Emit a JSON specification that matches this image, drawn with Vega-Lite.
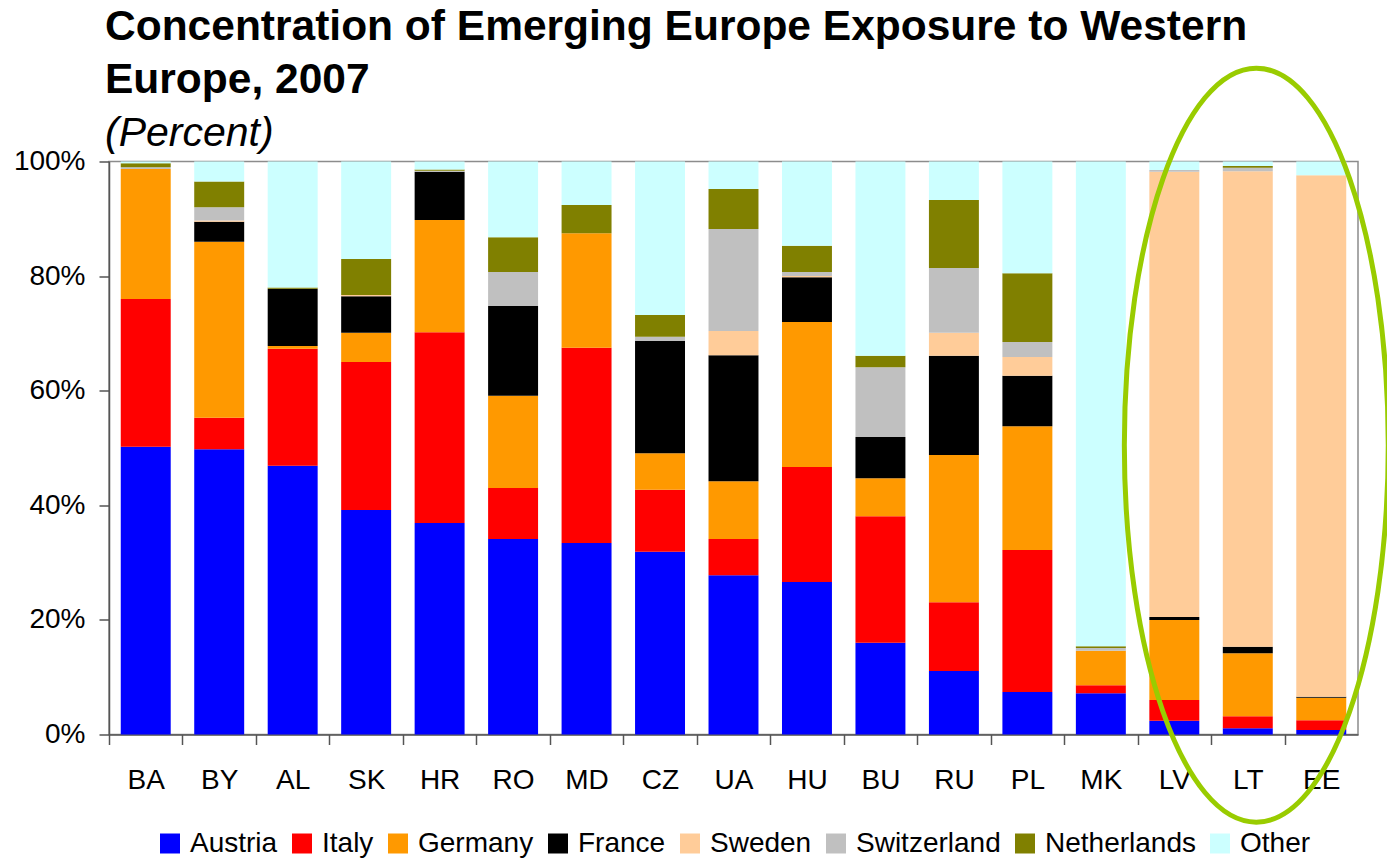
{
  "$schema": "https://vega.github.io/schema/vega-lite/v6.json",
  "width": 1249,
  "height": 573,
  "autosize": {"type": "none"},
  "padding": {"left": 109, "top": 161.5, "right": 29, "bottom": 124.5},
  "background": "white",
  "config": {
    "font": "Liberation Sans",
    "view": {"stroke": "#8c8c8c", "strokeWidth": 1.5},
    "axis": {"labelFont": "Liberation Sans", "labelColor": "black", "domainColor": "#555555", "tickColor": "#555555", "domainWidth": 1.5, "tickWidth": 1.5}
  },
  "title": {
    "text": ["Concentration of Emerging Europe Exposure to Western", "Europe, 2007"],
    "subtitle": "(Percent)",
    "anchor": "start",
    "frame": "group",
    "dx": -4,
    "font": "Liberation Sans",
    "fontSize": 42.5,
    "fontWeight": "bold",
    "lineHeight": 53,
    "color": "black",
    "subtitleFont": "Liberation Sans",
    "subtitleFontSize": 41,
    "subtitleFontStyle": "italic",
    "subtitleColor": "black",
    "subtitlePadding": 13,
    "offset": -96
  },
  "layer": [
    {
      "data": {
        "values": [
          {"c": "BA", "s": "Austria", "v": 50.2}, {"c": "BA", "s": "Italy", "v": 25.8}, {"c": "BA", "s": "Germany", "v": 22.7}, {"c": "BA", "s": "France", "v": 0}, {"c": "BA", "s": "Sweden", "v": 0}, {"c": "BA", "s": "Switzerland", "v": 0.3}, {"c": "BA", "s": "Netherlands", "v": 0.7}, {"c": "BA", "s": "Other", "v": 0.3},
          {"c": "BY", "s": "Austria", "v": 49.8}, {"c": "BY", "s": "Italy", "v": 5.5}, {"c": "BY", "s": "Germany", "v": 30.7}, {"c": "BY", "s": "France", "v": 3.5}, {"c": "BY", "s": "Sweden", "v": 0.2}, {"c": "BY", "s": "Switzerland", "v": 2.3}, {"c": "BY", "s": "Netherlands", "v": 4.5}, {"c": "BY", "s": "Other", "v": 3.5},
          {"c": "AL", "s": "Austria", "v": 46.9}, {"c": "AL", "s": "Italy", "v": 20.4}, {"c": "AL", "s": "Germany", "v": 0.5}, {"c": "AL", "s": "France", "v": 10.0}, {"c": "AL", "s": "Sweden", "v": 0}, {"c": "AL", "s": "Switzerland", "v": 0}, {"c": "AL", "s": "Netherlands", "v": 0.2}, {"c": "AL", "s": "Other", "v": 22.0},
          {"c": "SK", "s": "Austria", "v": 39.2}, {"c": "SK", "s": "Italy", "v": 25.8}, {"c": "SK", "s": "Germany", "v": 5.1}, {"c": "SK", "s": "France", "v": 6.4}, {"c": "SK", "s": "Sweden", "v": 0.2}, {"c": "SK", "s": "Switzerland", "v": 0}, {"c": "SK", "s": "Netherlands", "v": 6.3}, {"c": "SK", "s": "Other", "v": 17.0},
          {"c": "HR", "s": "Austria", "v": 36.9}, {"c": "HR", "s": "Italy", "v": 33.3}, {"c": "HR", "s": "Germany", "v": 19.6}, {"c": "HR", "s": "France", "v": 8.4}, {"c": "HR", "s": "Sweden", "v": 0}, {"c": "HR", "s": "Switzerland", "v": 0.2}, {"c": "HR", "s": "Netherlands", "v": 0.2}, {"c": "HR", "s": "Other", "v": 1.4},
          {"c": "RO", "s": "Austria", "v": 34.1}, {"c": "RO", "s": "Italy", "v": 8.9}, {"c": "RO", "s": "Germany", "v": 16.1}, {"c": "RO", "s": "France", "v": 15.7}, {"c": "RO", "s": "Sweden", "v": 0}, {"c": "RO", "s": "Switzerland", "v": 5.9}, {"c": "RO", "s": "Netherlands", "v": 6.1}, {"c": "RO", "s": "Other", "v": 13.2},
          {"c": "MD", "s": "Austria", "v": 33.4}, {"c": "MD", "s": "Italy", "v": 34.1}, {"c": "MD", "s": "Germany", "v": 20.0}, {"c": "MD", "s": "France", "v": 0}, {"c": "MD", "s": "Sweden", "v": 0}, {"c": "MD", "s": "Switzerland", "v": 0}, {"c": "MD", "s": "Netherlands", "v": 4.9}, {"c": "MD", "s": "Other", "v": 7.6},
          {"c": "CZ", "s": "Austria", "v": 31.9}, {"c": "CZ", "s": "Italy", "v": 10.8}, {"c": "CZ", "s": "Germany", "v": 6.4}, {"c": "CZ", "s": "France", "v": 19.6}, {"c": "CZ", "s": "Sweden", "v": 0}, {"c": "CZ", "s": "Switzerland", "v": 0.7}, {"c": "CZ", "s": "Netherlands", "v": 3.8}, {"c": "CZ", "s": "Other", "v": 26.8},
          {"c": "UA", "s": "Austria", "v": 27.8}, {"c": "UA", "s": "Italy", "v": 6.3}, {"c": "UA", "s": "Germany", "v": 10.1}, {"c": "UA", "s": "France", "v": 22.0}, {"c": "UA", "s": "Sweden", "v": 4.2}, {"c": "UA", "s": "Switzerland", "v": 17.8}, {"c": "UA", "s": "Netherlands", "v": 7.0}, {"c": "UA", "s": "Other", "v": 4.8},
          {"c": "HU", "s": "Austria", "v": 26.6}, {"c": "HU", "s": "Italy", "v": 20.1}, {"c": "HU", "s": "Germany", "v": 25.3}, {"c": "HU", "s": "France", "v": 7.8}, {"c": "HU", "s": "Sweden", "v": 0.2}, {"c": "HU", "s": "Switzerland", "v": 0.7}, {"c": "HU", "s": "Netherlands", "v": 4.6}, {"c": "HU", "s": "Other", "v": 14.7},
          {"c": "BU", "s": "Austria", "v": 16.0}, {"c": "BU", "s": "Italy", "v": 22.1}, {"c": "BU", "s": "Germany", "v": 6.6}, {"c": "BU", "s": "France", "v": 7.2}, {"c": "BU", "s": "Sweden", "v": 0}, {"c": "BU", "s": "Switzerland", "v": 12.2}, {"c": "BU", "s": "Netherlands", "v": 2.0}, {"c": "BU", "s": "Other", "v": 33.9},
          {"c": "RU", "s": "Austria", "v": 11.1}, {"c": "RU", "s": "Italy", "v": 12.0}, {"c": "RU", "s": "Germany", "v": 25.7}, {"c": "RU", "s": "France", "v": 17.3}, {"c": "RU", "s": "Sweden", "v": 4.0}, {"c": "RU", "s": "Switzerland", "v": 11.3}, {"c": "RU", "s": "Netherlands", "v": 11.9}, {"c": "RU", "s": "Other", "v": 6.7},
          {"c": "PL", "s": "Austria", "v": 7.4}, {"c": "PL", "s": "Italy", "v": 24.8}, {"c": "PL", "s": "Germany", "v": 21.6}, {"c": "PL", "s": "France", "v": 8.8}, {"c": "PL", "s": "Sweden", "v": 3.3}, {"c": "PL", "s": "Switzerland", "v": 2.6}, {"c": "PL", "s": "Netherlands", "v": 12.0}, {"c": "PL", "s": "Other", "v": 19.5},
          {"c": "MK", "s": "Austria", "v": 7.2}, {"c": "MK", "s": "Italy", "v": 1.4}, {"c": "MK", "s": "Germany", "v": 6.0}, {"c": "MK", "s": "France", "v": 0}, {"c": "MK", "s": "Sweden", "v": 0}, {"c": "MK", "s": "Switzerland", "v": 0.5}, {"c": "MK", "s": "Netherlands", "v": 0.3}, {"c": "MK", "s": "Other", "v": 84.6},
          {"c": "LV", "s": "Austria", "v": 2.4}, {"c": "LV", "s": "Italy", "v": 3.6}, {"c": "LV", "s": "Germany", "v": 14.0}, {"c": "LV", "s": "France", "v": 0.5}, {"c": "LV", "s": "Sweden", "v": 77.7}, {"c": "LV", "s": "Switzerland", "v": 0.3}, {"c": "LV", "s": "Netherlands", "v": 0}, {"c": "LV", "s": "Other", "v": 1.5},
          {"c": "LT", "s": "Austria", "v": 1.1}, {"c": "LT", "s": "Italy", "v": 2.1}, {"c": "LT", "s": "Germany", "v": 11.0}, {"c": "LT", "s": "France", "v": 1.1}, {"c": "LT", "s": "Sweden", "v": 83.0}, {"c": "LT", "s": "Switzerland", "v": 0.6}, {"c": "LT", "s": "Netherlands", "v": 0.3}, {"c": "LT", "s": "Other", "v": 0.8},
          {"c": "EE", "s": "Austria", "v": 0.8}, {"c": "EE", "s": "Italy", "v": 1.7}, {"c": "EE", "s": "Germany", "v": 3.9}, {"c": "EE", "s": "France", "v": 0.2}, {"c": "EE", "s": "Sweden", "v": 91.0}, {"c": "EE", "s": "Switzerland", "v": 0}, {"c": "EE", "s": "Netherlands", "v": 0}, {"c": "EE", "s": "Other", "v": 2.4}
        ]
      },
      "transform": [
        {"calculate": "indexof(['Austria','Italy','Germany','France','Sweden','Switzerland','Netherlands','Other'], datum.s)", "as": "o"}
      ],
      "mark": {"type": "bar", "strokeWidth": 0},
      "encoding": {
        "x": {
          "field": "c", "type": "nominal",
          "scale": {"domain": ["BA","BY","AL","SK","HR","RO","MD","CZ","UA","HU","BU","RU","PL","MK","LV","LT","EE"], "paddingInner": 0.32, "paddingOuter": 0.16},
          "axis": {"title": null, "labelAngle": 0, "labelFontSize": 28, "labelPadding": 22, "tickSize": 10, "tickOffset": -36.74, "labelOffset": 36.74}
        },
        "y": {
          "field": "v", "type": "quantitative", "stack": "zero",
          "scale": {"domain": [0, 100], "nice": false},
          "axis": {"title": null, "values": [0, 20, 40, 60, 80, 100], "labelExpr": "datum.value + '%'", "grid": false, "tickSize": 10, "labelPadding": 14, "labelFontSize": 28}
        },
        "color": {
          "field": "s", "type": "nominal",
          "scale": {
            "domain": ["Austria","Italy","Germany","France","Sweden","Switzerland","Netherlands","Other"],
            "range": ["#0000FF","#FF0000","#FF9900","#000000","#FFCC99","#C0C0C0","#808000","#CCFFFF"]
          },
          "legend": {"title": null, "orient": "none", "legendX": 47, "legendY": 668, "direction": "horizontal", "columns": 8, "symbolType": "square", "symbolSize": 400, "symbolStrokeWidth": 0, "labelFontSize": 28, "labelFont": "Liberation Sans", "labelColor": "black", "labelOffset": 6, "columnPadding": 10, "labelLimit": 400}
        },
        "order": {"field": "o", "type": "quantitative"}
      }
    },
    {
      "data": {"values": [{"c": "LT", "v": 50.5}]},
      "mark": {"type": "point", "shape": "M0,-1A0.35,1 0 1,1 0,1A0.35,1 0 1,1 0,-1Z", "size": 568516, "filled": false, "stroke": "#99CC00", "strokeWidth": 5, "opacity": 1, "xOffset": 8.5},
      "encoding": {
        "x": {"field": "c", "type": "nominal"},
        "y": {"field": "v", "type": "quantitative"}
      }
    }
  ]
}
